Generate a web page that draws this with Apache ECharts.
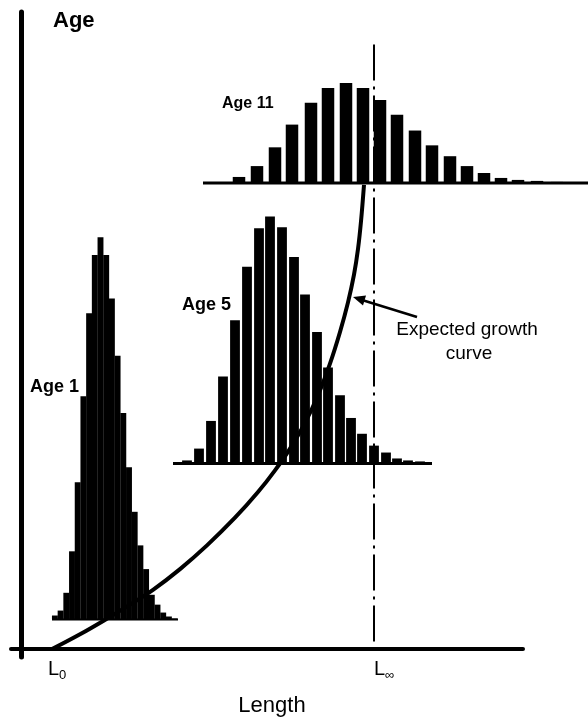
<!DOCTYPE html>
<html><head><meta charset="utf-8">
<script src="https://cdn.jsdelivr.net/npm/echarts@6/dist/echarts.min.js"></script>
<style>html,body{margin:0;padding:0;background:#fff}#c{width:588px;height:722px}</style>
</head><body><div id="c"></div>
<script>
// ---- data (Length on x, Age on y; arbitrary units) ----
const age1Lengths = [33.9, 39.6, 45.3, 51.0, 56.7, 62.4, 68.1, 73.8, 79.5, 85.2, 90.9, 96.6, 102.3, 108.0, 113.7, 119.4, 125.1, 130.8, 136.5, 142.2, 147.9, 153.6];
const age1Freq    = [4, 9, 27, 69, 139, 226, 310, 369, 387, 369, 325, 267, 209, 154, 109, 75, 51, 25, 15, 7, 3, 1];
const age1Base    = 30;
const age1Range   = [31, 157];

const age5Lengths = [166, 178, 190, 202, 214, 226, 238, 249, 261, 273, 284, 296, 307, 319, 330, 341, 353, 365, 376, 387, 399];
const age5Freq    = [3, 15, 43, 88, 145, 199, 238, 250, 239, 209, 171, 133, 97, 69, 46, 30, 18, 11, 5, 3, 2];
const age5Base    = 188;
const age5Range   = [152, 411];

const age11Lengths = [218, 236, 254, 271, 290, 307, 325, 342, 359, 376, 394, 411, 429, 446, 463, 480, 497, 516, 536];
const age11Freq    = [6, 17, 36, 59, 81, 96, 101, 96, 84, 69, 53, 38, 27, 17, 10, 5, 3, 2, 1];
const age11Base    = 472;
const age11Range   = [182, 570];

const growthLength = [31, 59, 83, 109, 132, 159, 186, 214, 237, 254, 269, 284, 297, 309, 319, 327, 333, 337, 340, 343];
const growthAge    = [0, 15, 29, 45, 60, 81, 105, 133, 159, 181, 203, 229, 257, 289, 321, 351, 379, 405, 433, 470];

const L0 = 27;
const LInf = 353;
const LInfTop = 612;
const tickValues = [L0, LInf];
const tickLabels = ['{a|L}{s|0}', '{a|L}{s|∞}'];

// ---- chart ----
const FONT = '"Liberation Sans", Arial, Helvetica, sans-serif';
const chart = echarts.init(document.getElementById('c'), null, {renderer: 'canvas'});

function histSeries(lengths, freq, base, barW) {
  return {
    type: 'custom', silent: true, clip: false, z: 2,
    data: lengths.map((x, i) => [x, freq[i]]),
    encode: {x: 0, y: 1},
    renderItem: function (params, api) {
      const x = api.value(0), f = api.value(1);
      const p0 = api.coord([x - barW / 2, base]);
      const p1 = api.coord([x + barW / 2, base + f]);
      return {type: 'rect', shape: {x: p0[0], y: p1[1], width: p1[0] - p0[0], height: p0[1] - p1[1]}, style: {fill: '#000'}};
    }
  };
}
function baseLine(range, base, w) {
  return {
    type: 'custom', silent: true, clip: false, z: 2,
    data: [[range[0], base, range[1]]],
    encode: {x: [0, 2], y: 1},
    renderItem: function (params, api) {
      const a = api.coord([api.value(0), api.value(1)]);
      const b = api.coord([api.value(2), api.value(1)]);
      return {type: 'line', shape: {x1: a[0], y1: a[1], x2: b[0], y2: b[1]}, style: {stroke: '#000', lineWidth: w}};
    }
  };
}

chart.setOption({
  animation: false,
  backgroundColor: '#fff',
  grid: {left: 11, right: 65, top: 12, bottom: 57},
  xAxis: {
    type: 'value', min: -10, max: 502,
    name: 'Length', nameLocation: 'middle', nameGap: 38,
    nameTextStyle: {fontFamily: FONT, fontSize: 22, color: '#000', padding: [0, 0, 0, 10]},
    axisLine: {onZero: true, lineStyle: {color: '#000', width: 4, cap: 'round'}},
    axisTick: {show: false},
    splitLine: {show: false},
    axisLabel: {
      customValues: tickValues, align: 'left', margin: 2, color: '#000',
      formatter: function (v) { return tickLabels[tickValues.indexOf(v)] || ''; },
      rich: {
        a: {fontFamily: FONT, fontSize: 20, color: '#000', lineHeight: 22, verticalAlign: 'top'},
        s: {fontFamily: FONT, fontSize: 13, color: '#000', lineHeight: 14, padding: [10, 0, 0, 0], verticalAlign: 'top'}
      }
    }
  },
  yAxis: {
    type: 'value', min: -8, max: 645,
    name: 'Age', nameLocation: 'end', nameGap: 2,
    nameTextStyle: {fontFamily: FONT, fontSize: 22, fontWeight: 'bold', color: '#000', align: 'left', verticalAlign: 'top', padding: [0, 0, 0, 32]},
    axisLine: {onZero: true, lineStyle: {color: '#000', width: 5, cap: 'round'}},
    axisTick: {show: false},
    axisLabel: {show: false},
    splitLine: {show: false}
  },
  series: [
    histSeries(age1Lengths, age1Freq, age1Base, 5.9),
    baseLine(age1Range, age1Base, 2),
    histSeries(age5Lengths, age5Freq, age5Base, 9.8),
    baseLine(age5Range, age5Base, 3),
    histSeries(age11Lengths, age11Freq, age11Base, 12.5),
    baseLine(age11Range, age11Base, 3),
    {
      type: 'line', silent: true, z: 3, symbol: 'none',
      data: [[LInf, LInfTop], [LInf, 0]],
      lineStyle: {color: '#000', width: 2, type: [36, 6, 3, 6]}
    },
    {
      type: 'line', silent: true, z: 4, symbol: 'none', smooth: 0.35,
      data: growthLength.map((x, i) => [x, growthAge[i]]),
      lineStyle: {color: '#000', width: 4}
    }
  ],
  graphic: [
    {type: 'text', x: 30, y: 387, style: {text: 'Age 1', font: 'bold 18px ' + FONT, fill: '#000', verticalAlign: 'middle'}},
    {type: 'text', x: 182, y: 305, style: {text: 'Age 5', font: 'bold 18px ' + FONT, fill: '#000', verticalAlign: 'middle'}},
    {type: 'text', x: 222, y: 104, style: {text: 'Age 11', font: 'bold 16px ' + FONT, fill: '#000', verticalAlign: 'middle'}},
    {type: 'text', x: 467, y: 330, style: {text: 'Expected growth', font: '19px ' + FONT, fill: '#000', align: 'center', verticalAlign: 'middle'}},
    {type: 'text', x: 469, y: 354, style: {text: 'curve', font: '19px ' + FONT, fill: '#000', align: 'center', verticalAlign: 'middle'}},
    {type: 'line', shape: {x1: 417, y1: 317, x2: 362, y2: 300}, style: {stroke: '#000', lineWidth: 2.5}},
    {type: 'polygon', shape: {points: [[353, 297], [366, 295.5], [363, 305.5]]}, style: {fill: '#000'}}
  ]
});
</script></body></html>
